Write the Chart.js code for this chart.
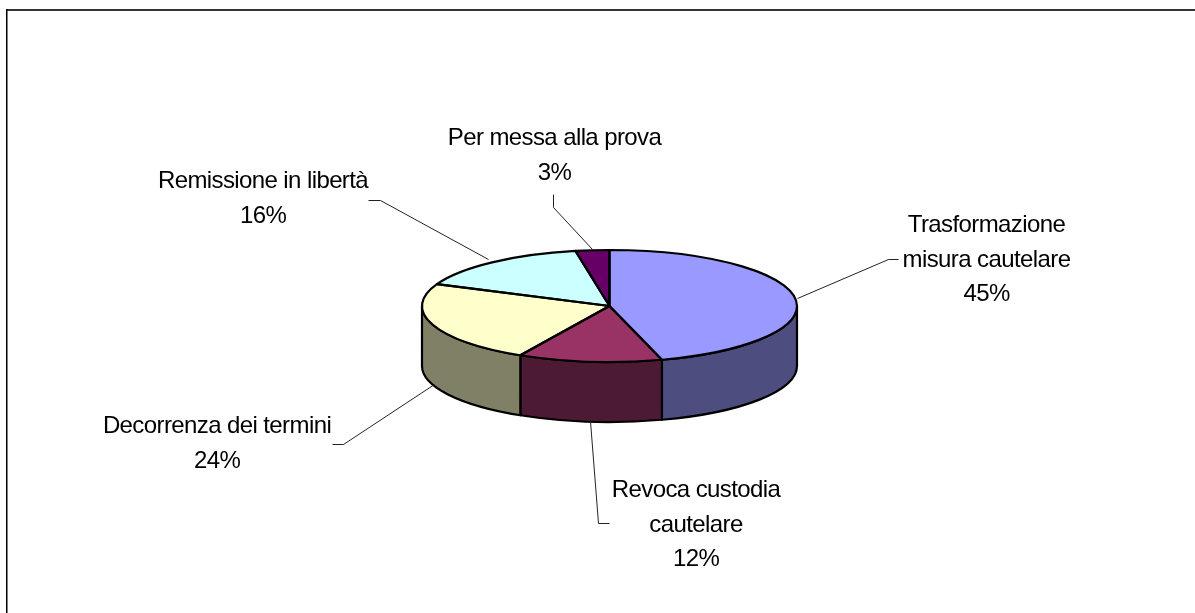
<!DOCTYPE html>
<html><head><meta charset="utf-8">
<style>html,body{margin:0;padding:0;background:#fff}canvas{display:block}</style>
<script src="https://cdn.jsdelivr.net/npm/chart.js@4"></script>
</head><body><canvas id="c" width="1195" height="613"></canvas>
<script>
const categories = ["Trasformazione misura cautelare","Revoca custodia cautelare","Decorrenza dei termini","Remissione in libertà","Per messa alla prova"];
const values = [45.49,12.4,23.5,15.7,2.91];
const topColors = ["#9999FF","#993366","#FFFFCC","#CCFFFF","#660066"];
const sideColors = ["#4D4D80","#4D1A33","#808066","#668080","#330033"];
const labelLines = [["Trasformazione","misura cautelare"],["Revoca custodia","cautelare"],["Decorrenza dei termini"],["Remissione in libertà"],["Per messa alla prova"]];
const labelCenters = [[986.5,232],[696,497],[217,433],[263,188],[554.5,145]];
const leaders = [
 [[797,298],[888,259],[898,259]],
 [[590,421],[598,523],[609,523]],
 [[434,384],[343,444],[332,444]],
 [[488,259],[380,200],[368,200]],
 [[592,249],[553,207],[553,194]]
];
const YSCALE = 56/187.5, DEPTH = 60, LINE = 34.7;

const pie3d = {
  id:'pie3d',
  beforeDatasetsDraw(chart){
    const ctx = chart.ctx, arcs = chart.getDatasetMeta(0).data;
    const a0 = arcs[0], cx = a0.x, cy = a0.y, r = a0.outerRadius, ry = r*YSCALE;
    // side wall, front half only
    arcs.forEach((a,i)=>{
      const s = Math.max(a.startAngle,0), e = Math.min(a.endAngle,Math.PI);
      if (e<=s) return;
      ctx.beginPath();
      ctx.ellipse(cx,cy,r,ry,0,s,e);
      ctx.ellipse(cx,cy+DEPTH,r,ry,0,e,s,true);
      ctx.closePath();
      ctx.fillStyle = sideColors[i]; ctx.fill();
      ctx.strokeStyle='#000'; ctx.lineWidth=2.2; ctx.lineJoin='round'; ctx.stroke();
    });
    ctx.save();
    ctx.translate(cx,cy); ctx.scale(1,YSCALE); ctx.translate(-cx,-cy);
  },
  afterDatasetsDraw(chart){
    const ctx = chart.ctx, arcs = chart.getDatasetMeta(0).data;
    ctx.restore();
    arcs.forEach(a=>{
      ctx.beginPath();
      ctx.moveTo(a.x,a.y);
      ctx.ellipse(a.x,a.y,a.outerRadius,a.outerRadius*YSCALE,0,a.startAngle,a.endAngle);
      ctx.closePath();
      ctx.strokeStyle='#000'; ctx.lineWidth=2.2; ctx.lineJoin='round'; ctx.stroke();
    });
    // frame
    ctx.strokeStyle='#333'; ctx.lineWidth=2;
    ctx.beginPath(); ctx.moveTo(6,10); ctx.lineTo(1195,10); ctx.stroke();
    ctx.strokeStyle='#000'; ctx.lineWidth=1.5;
    ctx.beginPath(); ctx.moveTo(6.75,9); ctx.lineTo(6.75,613); ctx.stroke();
    // leaders
    ctx.lineWidth=1; ctx.strokeStyle='#222';
    leaders.forEach(l=>{
      ctx.beginPath();
      l.forEach((p,i)=> i?ctx.lineTo(p[0]+.5,p[1]+.5):ctx.moveTo(p[0]+.5,p[1]+.5));
      ctx.stroke();
    });
    // labels
    const total = values.reduce((a,b)=>a+b,0);
    ctx.fillStyle='#000'; ctx.font='24px "Liberation Sans"'; ctx.textAlign='center'; ctx.textBaseline='alphabetic';
    ctx.letterSpacing='-0.6px';
    categories.forEach((c,i)=>{
      const lines = labelLines[i].concat([Math.round(values[i]/total*100)+'%']);
      lines.forEach((t,j)=>ctx.fillText(t,labelCenters[i][0],labelCenters[i][1]+j*LINE));
    });
    ctx.letterSpacing='0px';
  }
};

new Chart(document.getElementById('c'),{
  type:'pie',
  data:{labels:categories,datasets:[{data:values,backgroundColor:topColors,borderWidth:0,radius:187.5}]},
  options:{
    responsive:false,animation:false,rotation:0,
    layout:{padding:{left:24,bottom:1}},
    plugins:{legend:{display:false},tooltip:{enabled:false},title:{display:false}}
  },
  plugins:[pie3d]
});
</script></body></html>
